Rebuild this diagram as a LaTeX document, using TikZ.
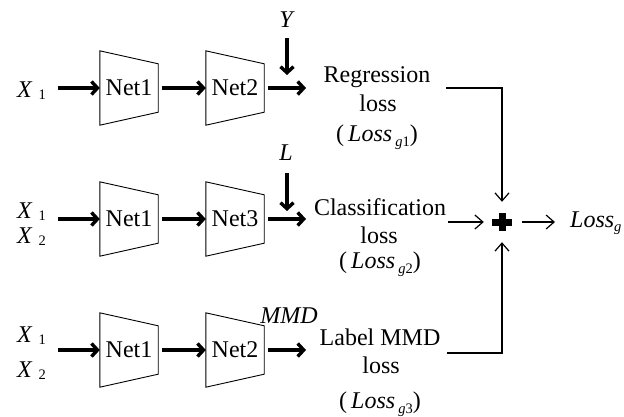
\documentclass[tikz,border=0pt]{standalone}
\usepackage{fontspec}
\setmainfont{Liberation Serif}
\usetikzlibrary{arrows.meta,calc}
\newcommand\lsub[1]{{\fontsize{14.5}{14.5}\selectfont #1}}
\newcommand\xsub[2]{\textit{#1}\hspace{6pt}\raisebox{-2pt}{\lsub{#2}}}
\newcommand\lossg[1]{(\hspace{4pt}\textit{Loss}\hspace{3pt}\raisebox{-5pt}{\lsub{\textit{g}#1}})}
\begin{document}
\begin{tikzpicture}[x=1pt,y=-1pt,
  txt/.style={inner sep=0pt, font=\fontsize{24}{28}\selectfont},
  netbox/.style={minimum width=58pt, minimum height=74pt, inner sep=0pt, font=\fontsize{24}{28}\selectfont},
  trap/.style={draw=black, line width=0.9pt, line join=miter},
  thickarrow/.style={line width=3.4pt, -{Straight Barb[length=6pt,width=13pt]}},
  thinarrow/.style={line width=1.2pt, -{Straight Barb[length=8pt,width=14pt]}},
  thinline/.style={line width=1.2pt}
]
\useasboundingbox (0,0) rectangle (624,416);

% ---------- row 1 ----------
\node[txt, anchor=base west] (x11) at (17,97) {\xsub{X}{1}};
\node[netbox] (a1) at (129,88) {Net1};
\node[netbox] (a2) at (235,88) {Net2};
\node[txt, anchor=base] (Y) at (287,27) {\textit{Y}};
\coordinate (s1) at (58,88);
\coordinate (e1) at (306,88);
\coordinate (y1s) at (287,38);
\coordinate (y1e) at (287,75);
\node[txt, anchor=base] (reg) at (377,82) {Regression};
\node[txt, anchor=base] (regl) at (378,111) {loss};
\node[txt, anchor=base] (regL) at (377,141) {\lossg{1}};
\coordinate (r1) at (446,88);

% ---------- row 2 ----------
\node[txt, anchor=base west] (x21) at (17,218) {\xsub{X}{1}};
\node[txt, anchor=base west] (x22) at (17,243) {\xsub{X}{2}};
\node[netbox] (b1) at (129,219) {Net1};
\node[netbox] (b2) at (235,219) {Net3};
\node[txt, anchor=base] (L) at (286,160) {\textit{L}};
\coordinate (s2) at (58,219);
\coordinate (e2) at (306,219);
\coordinate (y2s) at (287,173);
\coordinate (y2e) at (287,211);
\node[txt, anchor=base] (cls) at (380,215) {Classification};
\node[txt, anchor=base] (clsl) at (379,243) {loss};
\node[txt, anchor=base] (clsL) at (380,268) {\lossg{2}};
\coordinate (r2) at (448,222);

% ---------- row 3 ----------
\node[txt, anchor=base west] (x31) at (17,342) {\xsub{X}{1}};
\node[txt, anchor=base west] (x32) at (17,377) {\xsub{X}{2}};
\node[netbox] (c1) at (129,350) {Net1};
\node[netbox] (c2) at (235,350) {Net2};
\node[txt, anchor=base] (mmd) at (289,323) {\textit{MMD}};
\coordinate (s3) at (58,350);
\coordinate (e3) at (306,350);
\node[txt, anchor=base] (lab) at (380,345) {Label MMD};
\node[txt, anchor=base] (labl) at (381,373) {loss};
\node[txt, anchor=base] (labL) at (380,408) {\lossg{3}};
\coordinate (r3) at (447,353);

% ---------- sum ----------
\node[minimum width=36pt, minimum height=40pt, inner sep=0pt] (plus) at (502,222) {};
\fill ($(plus.center)+(-10,-3.5)$) rectangle ($(plus.center)+(10,3.5)$);
\fill ($(plus.center)+(-3.5,-9)$) rectangle ($(plus.center)+(3.5,9)$);
\node[txt, anchor=base west] (lg) at (570,227) {\textit{Loss}\raisebox{-4pt}{\lsub{\textit{g}}}};

% ---------- trapezoids ----------
\foreach \n in {a1,a2,b1,b2,c1,c2}
  \draw[trap] (\n.north west) -- ($(\n.north east)+(0,13)$) -- ($(\n.south east)+(0,-13)$) -- (\n.south west) -- cycle;

% ---------- thick arrows ----------
\draw[thickarrow] (s1) -- (a1.west);
\draw[thickarrow, shorten <=4pt] (a1.east) -- (a2.west);
\draw[thickarrow, shorten <=4pt] (a2.east) -- (e1);
\draw[thickarrow] (y1s) -- (y1e);

\draw[thickarrow] (s2) -- (b1.west);
\draw[thickarrow, shorten <=4pt] (b1.east) -- (b2.west);
\draw[thickarrow, shorten <=4pt] (b2.east) -- (e2);
\draw[thickarrow] (y2s) -- (y2e);

\draw[thickarrow] (s3) -- (c1.west);
\draw[thickarrow, shorten <=4pt] (c1.east) -- (c2.west);
\draw[thickarrow, shorten <=4pt] (c2.east) -- (e3);

% ---------- thin connectors ----------
\draw[thinarrow] (r1) -| (plus.north);
\draw[thinarrow] (r2) -- (plus.west);
\draw[thinarrow] (r3) -| (plus.south);
\draw[thinarrow, shorten <=2pt, shorten >=15pt] (plus.east) -- (plus.east -| lg.west);
\end{tikzpicture}
\end{document}
